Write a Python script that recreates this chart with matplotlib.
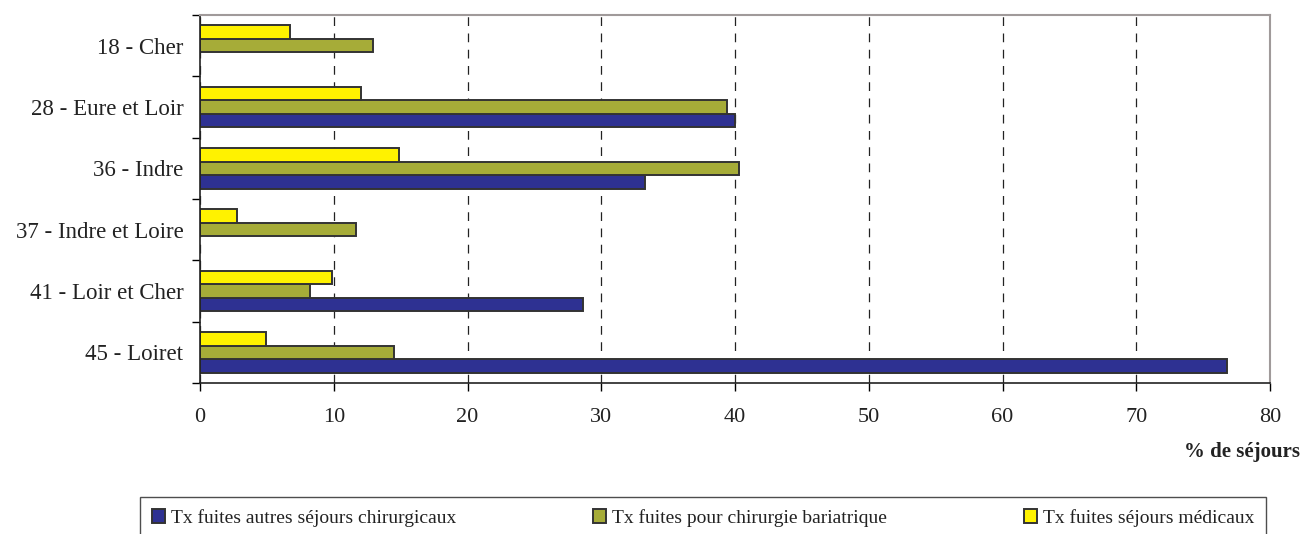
"""
Taux de fuites par département - barres horizontales groupées
"""

import matplotlib.pyplot as plt
import numpy as np

plt.rcParams["font.family"] = ["Liberation Serif", "DejaVu Serif"]

departements = [
    "18 - Cher",
    "28 - Eure et Loir",
    "36 - Indre",
    "37 - Indre et Loire",
    "41 - Loir et Cher",
    "45 - Loiret",
]
fuites_chir_autres = [np.nan, 40.0, 33.3, np.nan, 28.6, 76.8]
fuites_bariatrique = [12.9, 39.4, 40.3, 11.7, 8.2, 14.5]
fuites_medicaux = [6.7, 12.0, 14.9, 2.8, 9.9, 4.9]

series_labels = [
    "Tx fuites autres séjours chirurgicaux",
    "Tx fuites pour chirurgie bariatrique",
    "Tx fuites séjours médicaux",
]
colors = ["#2e3192", "#a6ac38", "#fff200"]

W, H = 1303, 534
fig = plt.figure(figsize=(W / 100, H / 100), dpi=100)
ax = fig.add_axes([200 / W, 1 - 383 / H, (1270 - 200) / W, (383 - 15) / H])

y = np.arange(len(departements))
h = 0.22
edge = dict(edgecolor="#333333", linewidth=1.4)

# order from top to bottom in each group: medicaux, bariatrique, autres chir
b_chir = ax.barh(y + h, fuites_chir_autres, height=h, color=colors[0], **edge)
b_bar = ax.barh(y, fuites_bariatrique, height=h, color=colors[1], **edge)
b_med = ax.barh(y - h, fuites_medicaux, height=h, color=colors[2], **edge)

ax.set_xlim(0, 80)
ax.set_ylim(len(departements) - 0.5, -0.5)

ax.set_xticks(np.arange(0, 81, 10))
ax.set_yticks(y)
ax.set_yticklabels(departements)
ax.set_yticks(np.arange(-0.5, len(departements)), minor=True)

ax.tick_params(axis="y", which="major", length=0, pad=12, labelsize=16.5, labelcolor="#222222")
ax.tick_params(axis="y", which="minor", length=6, direction="out", width=1)
ax.tick_params(axis="x", length=6, direction="out", width=1, pad=12, labelsize=16, labelcolor="#222222")

ax.xaxis.grid(True, linestyle=(0, (7, 6)), color="#222222", linewidth=0.9)
ax.set_axisbelow(True)

for s in ["top", "right"]:
    ax.spines[s].set_color("#a09a9a")
    ax.spines[s].set_linewidth(1.5)
for s in ["left", "bottom"]:
    ax.spines[s].set_color("#222222")
    ax.spines[s].set_linewidth(1.2)

fig.text(1300 / W, 1 - 452 / H, "% de séjours", ha="right", va="center",
         fontsize=15, fontweight="bold", color="#222222")

leg = fig.legend(
    [b_chir, b_bar, b_med],
    series_labels,
    loc="upper left",
    bbox_to_anchor=(140 / W, 0, (1266 - 140) / W, 1 - 497 / H),
    mode="expand",
    ncol=3,
    frameon=True,
    fancybox=False,
    edgecolor="#222222",
    fontsize=14,
    handlelength=0.7,
    handleheight=0.7,
    handletextpad=0.3,
    borderpad=0.6,
    borderaxespad=0,
)
leg.get_frame().set_linewidth(1.0)
for t in leg.get_texts():
    t.set_color("#222222")

fig.savefig("out.png", dpi=100)
